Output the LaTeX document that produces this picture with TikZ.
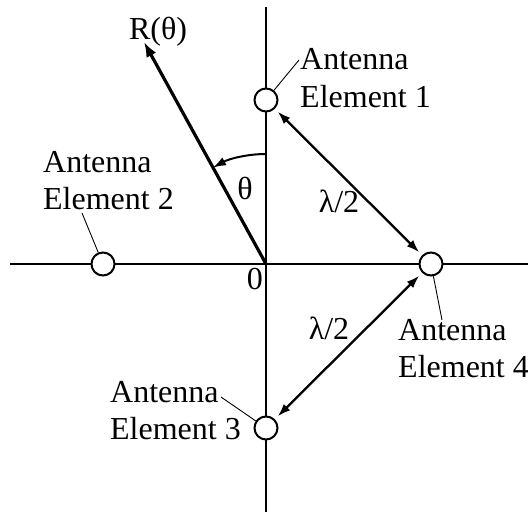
\documentclass[tikz,border=0pt]{standalone}
\usepackage{fontspec}
\setmainfont{Liberation Serif}
\usetikzlibrary{arrows.meta}
\begin{document}
\begin{tikzpicture}[x=1pt,y=1pt,
  axis/.style={line width=2.2pt},
  elem/.style={circle,draw,line width=2pt,minimum size=23pt,inner sep=0pt},
  leader/.style={line width=0.9pt},
  dimarrow/.style={line width=2.3pt,{Latex[length=13pt,width=9pt]}-{Latex[length=13pt,width=9pt]},shorten <=4pt,shorten >=4pt},
  lbl/.style={inner sep=0pt,font=\fontsize{32}{37}\selectfont},
]
\useasboundingbox (-266,-253) rectangle (262,264);
\coordinate (O) at (0,0);
% axes
\coordinate (vt) at (0,257);
\coordinate (vb) at (0,-248);
\coordinate (hl) at (-256,0);
\coordinate (hr) at (262,0);
\draw[axis] (vb) -- (vt);
\draw[axis] (hl) -- (hr);
% antenna elements
\node[elem,fill=white] (c1) at (0,164) {};
\node[elem,fill=white] (c2) at (-163,0) {};
\node[elem,fill=white] (c3) at (0,-164) {};
\node[elem,fill=white] (c4) at (165,0) {};
% R(theta) arrow
\coordinate (Rtip) at (-122,222);
\draw[line width=3.2pt,-{Latex[length=15pt,width=11pt]}] (O) -- (Rtip);
\node[lbl] (R) at (-108,232) {R(θ)};
% angle arc
\coordinate (arcs) at (0,110);
\draw[line width=2pt,-{Latex[length=13pt,width=9pt]}] (arcs) arc[start angle=90,end angle=118.8,radius=110];
\node[lbl] (th) at (-21,76) {θ};
\node[lbl] (zero) at (-11,-15) {0};
% lambda/2 arrows
\draw[dimarrow] (c1) -- (c4);
\draw[dimarrow] (c4) -- (c3);
\node[lbl] (lamA) at (73,63) {λ/2};
\node[lbl] (lamB) at (63,-64) {λ/2};
% labels
\node[lbl,anchor=base west] (e1a) at (34,194) {Antenna};
\node[lbl,anchor=base west] (e1b) at (34,157) {Element 1};
\node[lbl,anchor=base west] (e2a) at (-223,92) {Antenna};
\node[lbl,anchor=base west] (e2b) at (-223,55) {Element 2};
\node[lbl,anchor=base west] (e3a) at (-156,-138) {Antenna};
\node[lbl,anchor=base west] (e3b) at (-156,-175) {Element 3};
\node[lbl,anchor=base west] (e4a) at (132,-76) {Antenna};
\node[lbl,anchor=base west] (e4b) at (132,-113) {Element 4};
% leaders
\coordinate (l1) at (33,204);
\coordinate (l2) at (-184,51);
\coordinate (l3) at (-45,-133);
\coordinate (l4) at (176,-56);
\draw[leader] (l1) -- (c1);
\draw[leader] (l2) -- (c2);
\draw[leader] (l3) -- (c3);
\draw[leader] (l4) -- (c4);
\end{tikzpicture}
\end{document}
